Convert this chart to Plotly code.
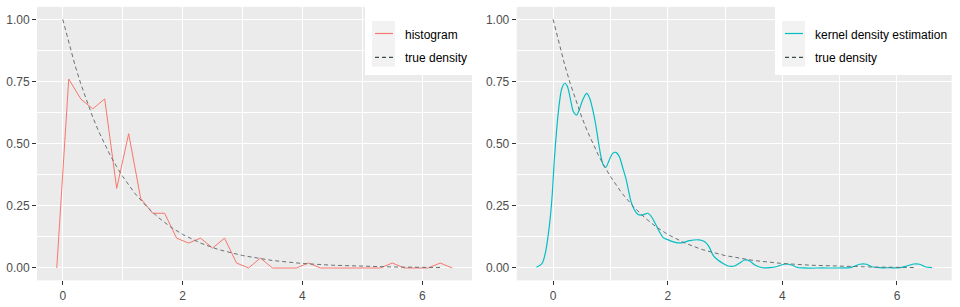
import plotly.graph_objects as go

# ---------------- data ----------------
hist_x = [-0.1, 0.1, 0.3, 0.5, 0.7, 0.9, 1.1, 1.3, 1.5, 1.7, 1.9, 2.1, 2.3, 2.5, 2.7,
          2.9, 3.1, 3.3, 3.5, 3.7, 3.9, 4.1, 4.3, 4.5, 4.7, 4.9, 5.1, 5.3, 5.5, 5.7,
          5.9, 6.1, 6.3, 6.5]
hist_y = [0, 0.76, 0.68, 0.64, 0.68, 0.32, 0.54, 0.28, 0.22, 0.22, 0.12, 0.10, 0.12, 0.08, 0.12,
          0.02, 0, 0.04, 0, 0, 0, 0.02, 0, 0, 0, 0, 0, 0, 0.02, 0,
          0, 0, 0.02, 0]

true_x = [0, 0.1, 0.2, 0.3, 0.4, 0.5, 0.6, 0.7, 0.8, 0.9, 1.0, 1.2, 1.4, 1.6, 1.8, 2.0,
          2.3, 2.6, 3.0, 3.5, 4.0, 4.5, 5.0, 5.5, 6.0, 6.3]
true_y = [1.00, 0.905, 0.819, 0.741, 0.670, 0.607, 0.549, 0.497, 0.449, 0.407, 0.368, 0.301,
          0.247, 0.202, 0.165, 0.135, 0.100, 0.074, 0.050, 0.030, 0.018, 0.011, 0.007, 0.004,
          0.0025, 0.0018]

kde_x = [-0.29, -0.19, -0.13, -0.07, -0.02, 0.02, 0.06, 0.105, 0.15, 0.205, 0.25, 0.31, 0.355,
         0.41, 0.455, 0.515, 0.585, 0.64, 0.70, 0.745, 0.79, 0.835, 0.875, 0.92, 0.98, 1.04,
         1.095, 1.155, 1.21, 1.27, 1.32, 1.36, 1.42, 1.475, 1.56, 1.65, 1.72, 1.78, 1.85, 1.92,
         2.02, 2.15, 2.26, 2.38, 2.55, 2.64, 2.72, 2.79, 2.875, 2.96, 3.05, 3.17, 3.25, 3.34,
         3.43, 3.52, 3.66, 3.78, 3.90, 3.98, 4.07, 4.16, 4.25, 4.36, 4.7, 5.06, 5.18, 5.27,
         5.35, 5.47, 5.56, 5.70, 5.88, 6.05, 6.17, 6.29, 6.40, 6.49, 6.61]
kde_y = [0.003, 0.019, 0.066, 0.16, 0.28, 0.43, 0.55, 0.655, 0.72, 0.743, 0.73, 0.67, 0.628,
         0.615, 0.635, 0.675, 0.702, 0.682, 0.628, 0.575, 0.508, 0.448, 0.414, 0.405, 0.434, 0.461,
         0.465, 0.448, 0.407, 0.36, 0.307, 0.267, 0.233, 0.216, 0.213, 0.22, 0.205, 0.18, 0.148, 0.122,
         0.112, 0.102, 0.102, 0.11, 0.113, 0.106, 0.086, 0.052, 0.032, 0.019, 0.008, 0.008, 0.019, 0.032,
         0.028, 0.012, 0.001, 0.001, 0.005, 0.012, 0.016, 0.012, 0.003, 0.0, 0.0, 0.0, 0.001, 0.008,
         0.015, 0.015, 0.005, 0.001, 0.001, 0.001, 0.008, 0.016, 0.015, 0.005, 0.001]

y_ticks = [0, 0.25, 0.5, 0.75, 1.0]
x_ticks = [0, 2, 4, 6]
left_labels = ["histogram", "true density"]
right_labels = ["kernel density estimation", "true density"]

# ---------------- style ----------------
W, H = 960, 307
RED = "#F8766D"
CYAN = "#00BFC4"
DASH_COL = "#677174"
DASH_KEY = "#3F4C4D"
PANEL = "#EBEBEB"
FONT = "Arial, Liberation Sans, sans-serif"


def px(x):
    return x / W


def py(y):
    return 1 - y / H


def expand(vals):
    lo, hi = min(vals), max(vals)
    d = (hi - lo) * 0.05
    return [lo - d, hi + d]


fig = go.Figure()

fig.add_trace(go.Scatter(x=hist_x, y=hist_y, mode="lines", name=left_labels[0],
                         line=dict(color=RED, width=1), xaxis="x", yaxis="y", showlegend=False))
fig.add_trace(go.Scatter(x=true_x, y=true_y, mode="lines", name=left_labels[1],
                         line=dict(color=DASH_COL, width=1, dash="4px,3px"),
                         xaxis="x", yaxis="y", showlegend=False))
fig.add_trace(go.Scatter(x=kde_x, y=kde_y, mode="lines", name=right_labels[0],
                         line=dict(color=CYAN, width=1.2, shape="spline", smoothing=0.8),
                         xaxis="x2", yaxis="y2", showlegend=False))
fig.add_trace(go.Scatter(x=true_x, y=true_y, mode="lines", name=right_labels[1],
                         line=dict(color=DASH_COL, width=1, dash="4px,3px"),
                         xaxis="x2", yaxis="y2", showlegend=False))

ydom = [py(280.4), py(6.9)]
axis_common = dict(
    showgrid=True, gridcolor="white", gridwidth=1.1, zeroline=False, showline=False,
    ticks="outside", ticklen=4, tickwidth=1, tickcolor="#333333",
    tickfont=dict(family=FONT, size=12, color="#4D4D4D"), automargin=False,
    fixedrange=True,
)

fig.update_layout(
    width=W, height=H,
    margin=dict(l=0, r=0, t=0, b=0),
    paper_bgcolor="white",
    plot_bgcolor=PANEL,
    showlegend=False,
    xaxis=dict(domain=[px(37), px(472)], range=expand(hist_x + true_x),
               tickvals=x_ticks, anchor="y",
               minor=dict(dtick=1, tick0=0, showgrid=True, gridcolor="white", gridwidth=0.55),
               **axis_common),
    yaxis=dict(domain=ydom, range=expand(hist_y + true_y), tickvals=y_ticks, tickformat=".2f",
               anchor="x",
               minor=dict(dtick=0.125, tick0=0, showgrid=True, gridcolor="white", gridwidth=0.55),
               **axis_common),
    xaxis2=dict(domain=[px(516.7), px(951.7)], range=expand(kde_x + true_x),
                tickvals=x_ticks, anchor="y2",
                minor=dict(dtick=1, tick0=0, showgrid=True, gridcolor="white", gridwidth=0.55),
                **axis_common),
    yaxis2=dict(domain=ydom, range=expand(kde_y + true_y), tickvals=y_ticks, tickformat=".2f",
                anchor="x2",
                minor=dict(dtick=0.125, tick0=0, showgrid=True, gridcolor="white", gridwidth=0.55),
                **axis_common),
)

# ---------------- manual ggplot-style legends ----------------
shapes = []
annotations = []


def add_legend(box_x0, box_x1, key_x0, text_x, labels, col):
    shapes.append(dict(type="rect", xref="paper", yref="paper", layer="above",
                       x0=px(box_x0), x1=px(box_x1), y0=py(75), y1=py(0),
                       fillcolor="white", line=dict(width=0)))
    shapes.append(dict(type="rect", xref="paper", yref="paper", layer="above",
                       x0=px(key_x0), x1=px(key_x0 + 23), y0=py(66.7), y1=py(21),
                       fillcolor="#F2F2F2", line=dict(width=0)))
    rows = [33.5, 57.3]
    styles = [dict(color=col, width=1.2), dict(color=DASH_KEY, width=1.2, dash="4px,3px")]
    for r, st in zip(rows, styles):
        shapes.append(dict(type="line", xref="paper", yref="paper", layer="above",
                           x0=px(key_x0 + 3), x1=px(key_x0 + 21), y0=py(r), y1=py(r),
                           line=st))
    for r, lab in zip([35, 58], labels):
        annotations.append(dict(xref="paper", yref="paper", x=px(text_x), y=py(r),
                                xanchor="left", yanchor="middle", showarrow=False,
                                text=lab, font=dict(family=FONT, size=12, color="black")))


add_legend(365, 472, 372, 403, left_labels, RED)
add_legend(775, 958, 782, 813, right_labels, CYAN)

fig.update_layout(shapes=shapes, annotations=annotations)

fig.write_html("out.html", config={"displayModeBar": False})
